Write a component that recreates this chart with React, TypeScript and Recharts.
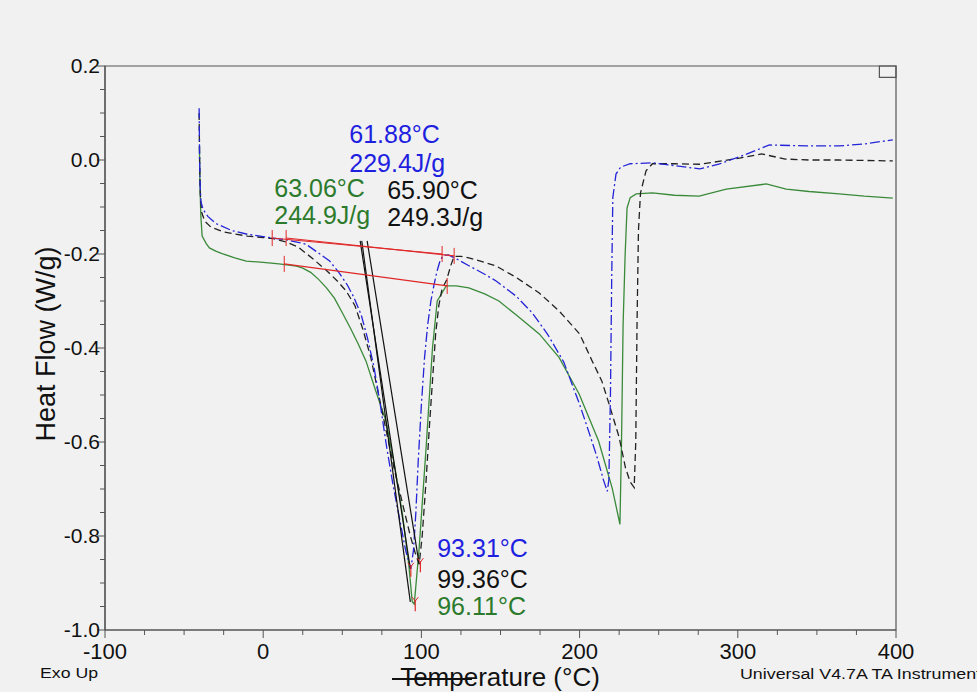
import React from 'react';
import { LineChart, Line, XAxis, YAxis, ReferenceArea, ReferenceDot } from 'recharts';

// ---- Data (Temperature °C, Heat Flow W/g) ----
const blueTemp = [-40.5, -40.2, -39.8, -39.3, -38, -35, -30, -20, -10, 0, 6, 15, 27, 35, 42, 48, 53, 57, 62, 66, 70, 74, 78, 82, 86, 90, 93.3, 95, 96.5, 98, 100, 102, 104, 106, 108, 110, 112, 114, 117, 122, 130, 140, 147, 160, 170, 180, 190, 200, 206, 211, 215, 217.5, 218.5, 219.5, 220.3, 221, 223, 226, 232, 246, 260, 276, 288, 305, 320, 343, 364, 380, 398];
const blueFlow = [0.11, 0.0, -0.06, -0.09, -0.105, -0.12, -0.135, -0.15, -0.158, -0.163, -0.166, -0.17, -0.179, -0.198, -0.215, -0.24, -0.265, -0.29, -0.33, -0.38, -0.44, -0.52, -0.61, -0.69, -0.76, -0.83, -0.87, -0.83, -0.75, -0.64, -0.52, -0.42, -0.35, -0.3, -0.265, -0.235, -0.212, -0.203, -0.202, -0.21, -0.225, -0.243, -0.257, -0.29, -0.325, -0.372, -0.43, -0.52, -0.58, -0.632, -0.68, -0.705, -0.68, -0.5, -0.25, -0.08, -0.03, -0.015, -0.008, -0.006, -0.012, -0.019, -0.009, 0.012, 0.032, 0.03, 0.03, 0.034, 0.043];

const blackTemp = [-40.5, -40.2, -39.8, -39, -37, -33, -25, -10, 0, 6, 15, 22, 31, 40, 47, 52.5, 58, 63, 68, 73, 78, 83, 88, 93, 96, 98.6, 100.5, 103, 105, 107, 109, 111, 113, 116, 118.5, 120.7, 125, 130, 140, 147, 160, 174.5, 187, 200, 208, 214, 218.7, 225, 229, 232, 234.5, 235.5, 236.3, 237.2, 238.5, 242, 246, 260, 276, 290, 301, 315, 330, 345, 364, 398];
const blackFlow = [0.1, 0.0, -0.07, -0.11, -0.13, -0.143, -0.153, -0.162, -0.165, -0.167, -0.175, -0.185, -0.209, -0.235, -0.258, -0.279, -0.31, -0.36, -0.42, -0.5, -0.58, -0.66, -0.73, -0.8, -0.835, -0.86, -0.8, -0.68, -0.57, -0.47, -0.37, -0.31, -0.275, -0.255, -0.225, -0.205, -0.205, -0.208, -0.218, -0.225, -0.25, -0.283, -0.321, -0.37, -0.428, -0.47, -0.52, -0.59, -0.655, -0.685, -0.697, -0.6, -0.35, -0.15, -0.07, -0.023, -0.008, -0.008, -0.009, -0.002, 0.004, 0.013, 0.002, 0.0, 0.0, -0.002];

const greenTemp = [-40.3, -40.0, -39.4, -38.6, -36, -34, -30, -26, -18, -10.7, 0, 10, 15, 21, 25, 30, 35, 40, 45, 50, 55, 60, 65, 71, 77.6, 83, 88, 92, 94.2, 95.5, 98.6, 103, 107, 110, 115.7, 122, 130, 140, 149, 160, 174.5, 187, 199.7, 212, 220.6, 225.5, 226.5, 227.5, 228.8, 230, 232, 235.8, 246, 260, 275.6, 292.7, 318, 330.6, 345, 364, 380, 398];
const greenFlow = [0.03, -0.05, -0.12, -0.162, -0.178, -0.187, -0.194, -0.199, -0.208, -0.215, -0.218, -0.221, -0.223, -0.226, -0.23, -0.239, -0.254, -0.272, -0.294, -0.325, -0.357, -0.391, -0.428, -0.49, -0.555, -0.65, -0.753, -0.86, -0.94, -0.945, -0.825, -0.61, -0.4, -0.3, -0.268, -0.268, -0.272, -0.285, -0.3, -0.33, -0.37, -0.42, -0.498, -0.598, -0.698, -0.775, -0.6, -0.35, -0.2, -0.102, -0.08, -0.072, -0.07, -0.075, -0.077, -0.062, -0.051, -0.062, -0.067, -0.072, -0.077, -0.081];

// onset tangent lines
const blueTangentTemp = [61.3, 93.0];
const blueTangentFlow = [-0.172, -0.87];
const greenTangentTemp = [62.3, 93.0];
const greenTangentFlow = [-0.172, -0.94];
const blackTangentTemp = [65.7, 98.6];
const blackTangentFlow = [-0.172, -0.86];

// integration baselines
const blueBaseTemp = [5.7, 113.1];
const blueBaseFlow = [-0.166, -0.2];
const blackBaseTemp = [14.5, 120.7];
const blackBaseFlow = [-0.166, -0.204];
const greenBaseTemp = [13.3, 116.3];
const greenBaseFlow = [-0.221, -0.268];

// peak markers
const peakTemp = [93.31, 99.36, 96.11];
const peakFlow = [-0.872, -0.862, -0.945];

// annotations
const noteText = ['61.88°C', '229.4J/g', '63.06°C', '244.9J/g', '65.90°C', '249.3J/g', '93.31°C', '99.36°C', '96.11°C'];
const noteTemp = [54.4, 54.4, 7.0, 7.0, 78.4, 78.4, 110, 110, 110];
const noteFlow = [0.055, -0.006, -0.06, -0.117, -0.064, -0.121, -0.826, -0.891, -0.949];
const noteColor = ['blue', 'blue', 'green', 'green', 'black', 'black', 'blue', 'black', 'green'];

const xTicks = [-100, -75, -50, -25, 0, 25, 50, 75, 100, 125, 150, 175, 200, 225, 250, 275, 300, 325, 350, 375, 400];
const yTicks = [0.2, 0.15, 0.1, 0.05, 0, -0.05, -0.1, -0.15, -0.2, -0.25, -0.3, -0.35, -0.4, -0.45, -0.5, -0.55, -0.6, -0.65, -0.7, -0.75, -0.8, -0.85, -0.9, -0.95, -1.0];

const COLORS: Record<string, string> = { blue: '#1f1fe0', black: '#111111', green: '#2c7a2c' };
const BLUE_LINE = '#2424d8';
const GREEN_LINE = '#3a8a3a';
const RED = '#e02828';
const AXIS = '#555555';
const FONT = '"Liberation Sans", Arial, sans-serif';

const zip = (t: number[], f: number[]) => t.map((x, i) => ({ t: x, hf: f[i] }));

const YTick = (props: any) => {
  const { x, y, payload } = props;
  const v = payload.value as number;
  const major = Math.abs(v * 5 - Math.round(v * 5)) < 1e-6;
  const label = Math.abs(v) < 1e-9 ? '0.0' : v.toFixed(1);
  return (
    <g>
      <line x1={x - (major ? 8 : 5)} x2={x} y1={y} y2={y} stroke={AXIS} strokeWidth={1} />
      {major && (
        <text x={x - 5} y={y} dy="0.34em" textAnchor="end" fontSize={21} fill="#111" fontFamily={FONT}>
          {label}
        </text>
      )}
    </g>
  );
};

const XTick = (props: any) => {
  const { x, y, payload } = props;
  const v = payload.value as number;
  const major = v % 100 === 0;
  return (
    <g>
      <line x1={x} x2={x} y1={y} y2={y + (major ? 8 : 5)} stroke={AXIS} strokeWidth={1} />
      {major && (
        <text x={x} y={y + 29} textAnchor="middle" fontSize={22} fill="#111" fontFamily={FONT}>
          {String(v)}
        </text>
      )}
    </g>
  );
};

const redTickDot = (props: any) => {
  const { cx, cy, index } = props;
  return <line key={`rt-${index}-${cx}`} x1={cx} x2={cx} y1={cy - 8} y2={cy + 8} stroke={RED} strokeWidth={1} />;
};

export default function App() {
  const blue = zip(blueTemp, blueFlow);
  const black = zip(blackTemp, blackFlow);
  const green = zip(greenTemp, greenFlow);
  const tangents = [zip(blueTangentTemp, blueTangentFlow), zip(greenTangentTemp, greenTangentFlow), zip(blackTangentTemp, blackTangentFlow)];
  const bases = [zip(blueBaseTemp, blueBaseFlow), zip(blackBaseTemp, blackBaseFlow), zip(greenBaseTemp, greenBaseFlow)];

  return (
    <div style={{ position: 'absolute', left: 0, top: 0, width: 977, height: 692, background: '#f1f1f1', overflow: 'hidden' }}>
      <LineChart width={977} height={692} margin={{ top: 66, right: 81, bottom: 0, left: 0 }} style={{ fontFamily: FONT }}>
        <XAxis
          dataKey="t"
          type="number"
          domain={[-100, 400]}
          ticks={xTicks}
          interval={0}
          allowDataOverflow
          height={62}
          tickSize={0}
          tickMargin={0}
          tickLine={false}
          tick={<XTick />}
          axisLine={{ stroke: AXIS, strokeWidth: 1.2 }}
        />
        <YAxis
          dataKey="hf"
          type="number"
          domain={[-1.0, 0.2]}
          ticks={yTicks}
          interval={0}
          allowDataOverflow
          width={105}
          tickSize={0}
          tickMargin={0}
          tickLine={false}
          tick={<YTick />}
          axisLine={{ stroke: AXIS, strokeWidth: 1.2 }}
        />
        <ReferenceArea x1={-100} x2={400} y1={-1.0} y2={0.2} fill="none" stroke={AXIS} strokeWidth={1.2} />
        <ReferenceArea x1={389.5} x2={400} y1={0.176} y2={0.2} fill="none" stroke={AXIS} strokeWidth={1.2} />

        <Line data={green} dataKey="hf" type="linear" stroke={GREEN_LINE} strokeWidth={1.3} dot={false} isAnimationActive={false} />
        <Line data={black} dataKey="hf" type="linear" stroke="#222" strokeWidth={1.3} strokeDasharray="7 4" dot={false} isAnimationActive={false} />
        <Line data={blue} dataKey="hf" type="linear" stroke={BLUE_LINE} strokeWidth={1.3} strokeDasharray="10 3 2 3" dot={false} isAnimationActive={false} />

        {tangents.map((d, i) => (
          <Line key={`tan-${i}`} data={d} dataKey="hf" type="linear" stroke="#111" strokeWidth={1.2} dot={false} isAnimationActive={false} />
        ))}
        {bases.map((d, i) => (
          <Line key={`base-${i}`} data={d} dataKey="hf" type="linear" stroke={RED} strokeWidth={1.2} dot={redTickDot} isAnimationActive={false} />
        ))}

        {peakTemp.map((t, i) => (
          <ReferenceDot
            key={`pk-${i}`}
            x={t}
            y={peakFlow[i]}
            r={0}
            ifOverflow="visible"
            shape={(p: any) => (
              <g>
                <line x1={p.cx} x2={p.cx} y1={p.cy - 4} y2={p.cy + 7} stroke={RED} strokeWidth={1.2} />
                <line x1={p.cx - 3} x2={p.cx} y1={p.cy - 7} y2={p.cy - 3} stroke={RED} strokeWidth={1} />
                <line x1={p.cx + 3} x2={p.cx} y1={p.cy - 7} y2={p.cy - 3} stroke={RED} strokeWidth={1} />
              </g>
            )}
          />
        ))}

        {noteText.map((txt, i) => (
          <ReferenceDot
            key={`note-${i}`}
            x={noteTemp[i]}
            y={noteFlow[i]}
            r={0}
            ifOverflow="visible"
            shape={(p: any) => (
              <text x={p.cx} y={p.cy} dy="0.36em" textAnchor="start" fontSize={25} fill={COLORS[noteColor[i]]} fontFamily={FONT}>
                {txt}
              </text>
            )}
          />
        ))}
      </LineChart>
      <svg width={977} height={692} style={{ position: 'absolute', left: 0, top: 0, pointerEvents: 'none' }}>
        <text x={46} y={344} transform="rotate(-90 46 344)" textAnchor="middle" dominantBaseline="central" fontSize={27} fill="#111" fontFamily={FONT}>
          Heat Flow (W/g)
        </text>
        <text x={500} y={677} textAnchor="middle" dominantBaseline="central" fontSize={26} fill="#111" fontFamily={FONT}>
          Temperature (°C)
        </text>
        <line x1={392} x2={472} y1={679} y2={679} stroke="#111" strokeWidth={2} />
        <text x={40} y={673} dominantBaseline="central" fontSize={14} fill="#111" fontFamily={FONT} textLength={58} lengthAdjust="spacingAndGlyphs">
          Exo Up
        </text>
        <text x={740} y={674} dominantBaseline="central" fontSize={14} fill="#111" fontFamily={FONT} textLength={250} lengthAdjust="spacingAndGlyphs">
          Universal V4.7A TA Instruments
        </text>
      </svg>
    </div>
  );
}
